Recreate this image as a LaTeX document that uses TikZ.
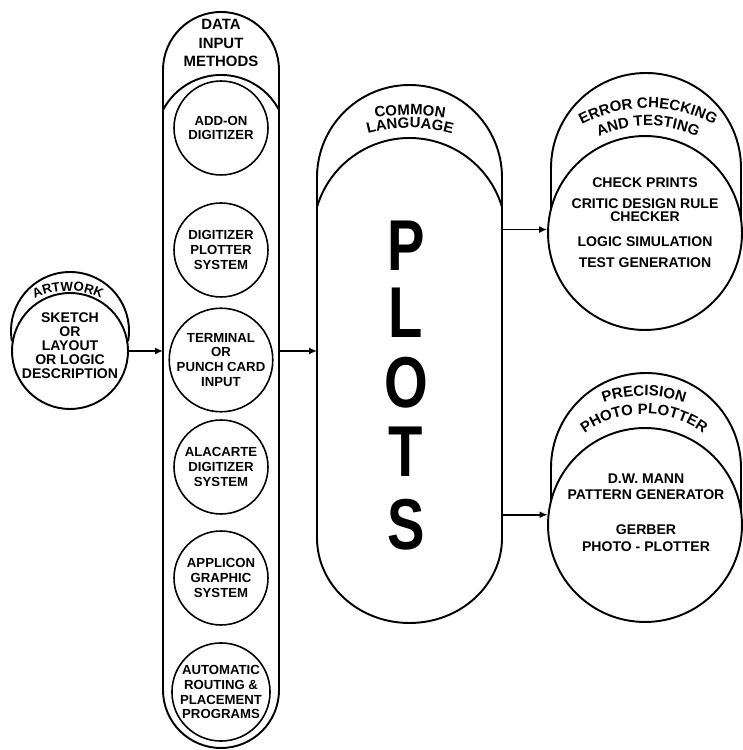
\documentclass[tikz,border=0pt]{standalone}
\usepackage{fontspec}
\setmainfont{Liberation Sans}
\usepackage{graphicx}
\usepackage{tikz}
\usetikzlibrary{arrows.meta,decorations.text}
\newcommand\ttlfont{\fontsize{8.5}{8.5}\selectfont\bfseries}
\newcommand\artfont{\fontsize{7.5}{7.5}\selectfont\bfseries}
\tikzstyle{outline}=[draw=black, line width=1.1pt]
\tikzstyle{unit}=[circle, draw=black, line width=0.9pt, minimum size=1.88cm, inner sep=0pt, align=center, font=\fontsize{7.5}{8.5}\selectfont\bfseries]
\tikzstyle{stage}=[circle, draw=black, line width=1.1pt, minimum size=3.88cm]
\tikzstyle{body}=[align=center, font=\fontsize{8}{9.6}\selectfont\bfseries]
\tikzstyle{plotletter}=[inner sep=0pt, font=\fontsize{41}{41}\selectfont\bfseries]
\tikzstyle{flow}=[draw=black, line width=1pt, -{Latex[length=1.6mm,width=1.4mm]}]
\tikzset{arctitle/.style={decorate, decoration={text along path, text align=center, text={|\ttlfont|#1}}}}

\begin{document}
\begin{tikzpicture}[x=0.02cm, y=0.02cm]
	\useasboundingbox (0,0) rectangle (743,750);
	\begin{scope}
		\node (art) at (70,399)[circle, outline, minimum size=2.32cm, inner sep=0pt] {};
		\node (arttxt) at (70,404)[body, font=\fontsize{8}{8}\selectfont\bfseries] {SKETCH\\OR\\LAYOUT\\OR LOGIC\\DESCRIPTION};
		\node (dtitle) at (221,707)[body, font=\fontsize{8.5}{10.5}\selectfont\bfseries] {DATA\\INPUT\\METHODS};
		\node (add) at (221,622)[unit] {ADD-ON\\DIGITIZER};
		\node (dps) at (221,500)[unit] {DIGITIZER\\PLOTTER\\SYSTEM};
		\node (term) at (221,390)[unit] {TERMINAL\\OR\\PUNCH CARD\\INPUT};
		\node (ala) at (221,283)[unit] {ALACARTE\\DIGITIZER\\SYSTEM};
		\node (appl) at (221,172)[unit] {APPLICON\\GRAPHIC\\SYSTEM};
		\node (auto) at (221,58)[unit] {AUTOMATIC\\ROUTING \&\\PLACEMENT\\PROGRAMS};
		\foreach \c/\y in {P/504,L/437,O/367,T/298,S/225}
			\node (let\c) at (406,\y)[plotletter] {\scalebox{0.78}[1]{\c}};
		\node (err) at (645,517)[stage] {};
		\node (errtxt) at (645,527.5)[body] {CHECK PRINTS\\[2.3pt]CRITIC DESIGN RULE\\[-1.7pt]CHECKER\\[4.5pt]LOGIC SIMULATION\\[2.3pt]TEST GENERATION};
		\node (prec) at (645,225)[stage] {};
		\node (prectxt) at (646,237.5)[body] {D.W. MANN\\PATTERN GENERATOR\\[10.2pt]GERBER\\PHOTO - PLOTTER};
		\coordinate (dataL) at (163,0);
		\coordinate (dataR) at (279,0);
		\coordinate (plotL) at (317,0);
		\coordinate (plotR) at (502,0);
	\end{scope}
	\begin{scope}
		% hoods and columns
		\draw[outline] ([shift={(190:59)}]70,419) arc (190:-10:59);
		\draw[outline] (163,60) -- (163,680) arc (180:0:58) -- (279,60) arc (0:-180:58) -- cycle;
		\draw[outline] (163,640) arc (152.2:27.8:65.6);
		\draw[outline] (317,212) -- (317,572.5) arc (180:0:92.5) -- (502,212) arc[start angle=0, end angle=-180, x radius=92.5, y radius=85] -- cycle;
		\draw[outline] (317,543) arc (163.44:16.56:96.5);
		\draw[outline] (551,541) -- (551,582) arc (180:0:95) -- (741,531);
		\draw[outline] (551,249) -- (551,282) arc (180:0:95) -- (741,239);
		% curved titles
		\path[decorate, decoration={text along path, text align=center, text={|\artfont|ARTWORK}}] ([shift={(125:75)}]68,384) arc (125:55:75);
		\path[arctitle={COMMON}] ([shift={(110:200)}]410,435) arc (110:70:200);
		\path[arctitle={LANGUAGE}] ([shift={(115:160)}]410,462) arc (115:65:160);
		\path[arctitle={ERROR CHECKING}] ([shift={(150:140)}]648,502) arc (150:30:140);
		\path[arctitle={AND TESTING}] ([shift={(150:122)}]648,502) arc (150:30:122);
		\path[arctitle={PRECISION}] ([shift={(150:119)}]644,235) arc (150:30:119);
		\path[arctitle={PHOTO PLOTTER}] ([shift={(160:101)}]644,235) arc (160:20:101);
	\end{scope}
	\begin{scope}
		\path (art.east) edge[flow] (art.east -| dataL);
		\path (dataR |- art.east) edge[flow] (plotL |- art.east);
		\path (plotR |- err.178) edge[flow] (err.178);
		\path (plotR |- prec.174) edge[flow] (prec.174);
	\end{scope}
\end{tikzpicture}
\end{document}
